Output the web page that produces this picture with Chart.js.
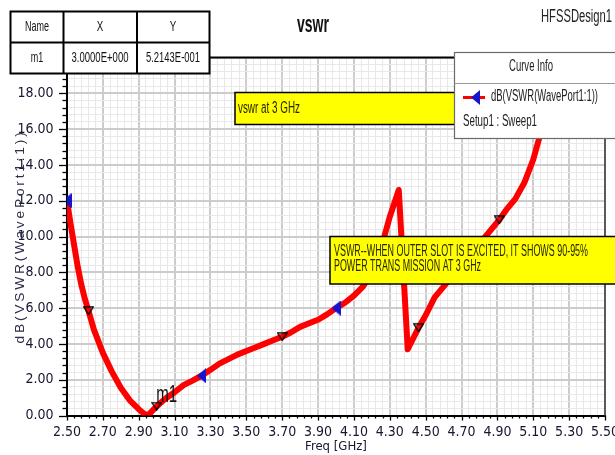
<!DOCTYPE html>
<html><head><meta charset="utf-8">
<script src="https://cdn.jsdelivr.net/npm/chart.js@4.4.1/dist/chart.umd.min.js"></script>
<style>html,body{margin:0;padding:0;background:#fff;overflow:hidden}canvas{display:block}</style>
</head><body>
<canvas id="c" width="615" height="455"></canvas>
<script>
// ---- data ----
const freqGHz = [2.50,2.52,2.54,2.56,2.58,2.60,2.62,2.65,2.70,2.75,2.80,2.85,2.90,2.93,2.95,2.97,3.00,3.05,3.10,3.15,3.20,3.25,3.30,3.35,3.40,3.45,3.50,3.55,3.60,3.65,3.70,3.75,3.80,3.85,3.90,3.95,4.00,4.05,4.10,4.15,4.20,4.25,4.30,4.35,4.40,4.46,4.50,4.55,4.60,4.65,4.70,4.75,4.80,4.85,4.91,4.95,5.00,5.05,5.10,5.15,5.20,5.25];
const dbVswr  = [12.0,10.7,9.5,8.3,7.3,6.5,5.85,4.8,3.5,2.45,1.55,0.85,0.35,0.1,0.02,0.2,0.52,0.95,1.3,1.7,1.95,2.22,2.55,2.9,3.15,3.4,3.6,3.8,4.0,4.2,4.4,4.65,4.95,5.15,5.35,5.65,6.0,6.3,6.7,7.2,8.0,9.3,11.1,12.6,3.7,4.9,5.6,6.6,7.2,7.85,8.5,9.1,9.6,10.2,10.93,11.5,12.1,13.0,14.3,16.1,18.4,21.0];
const arrowFreq = [2.50, 3.25, 4.00];
const arrowDb   = [12.0, 2.22, 6.0];
const symbolFreq = [2.62, 3.00, 3.70, 4.46, 4.91];
const symbolDb   = [5.85, 0.52, 4.40, 4.90, 10.93];
const markerName = 'm1', markerFreq = 3.0, markerDb = 0.52143;
const xLabelValues = [2.5,2.7,2.9,3.1,3.3,3.5,3.7,3.9,4.1,4.3,4.5,4.7,4.9,5.1,5.3,5.5];
const yLabelValues = [0,2,4,6,8,10,12,14,16,18,20];
const tableHeader = ['Name','X','Y'];
const tableRow = ['m1','3.0000E+000','5.2143E-001'];
const note1 = 'vswr at 3 GHz';
const note2 = ['VSWR--WHEN OUTER SLOT IS EXCITED, IT SHOWS 90-95%','POWER TRANS MISSION AT 3 GHz'];
const traceName = 'dB(VSWR(WavePort1:1))';
const traceSetup = 'Setup1 : Sweep1';

const SANS = "'Liberation Sans', Arial, sans-serif";
const NARROW = "'Liberation Sans Narrow', 'Arial Narrow', 'DejaVu Sans Condensed', sans-serif";
const LBL = '#16162e';
const near = (arr, v) => arr.some(a => Math.abs(a - v) < 1e-6);

// point style images
function triLeft() {
  const c = document.createElement('canvas'); c.width = 9; c.height = 15;
  const g = c.getContext('2d'); g.fillStyle = '#1515d0';
  g.beginPath(); g.moveTo(0, 7.5); g.lineTo(9, 0); g.lineTo(9, 15); g.closePath(); g.fill();
  return c;
}
function triDown() {
  const c = document.createElement('canvas'); c.width = 11; c.height = 9;
  const g = c.getContext('2d'); g.strokeStyle = '#000'; g.lineWidth = 1.3;
  g.beginPath(); g.moveTo(0.8, 0.8); g.lineTo(10.2, 0.8); g.lineTo(5.5, 8.2); g.closePath(); g.stroke();
  return c;
}
const imgLeft = triLeft(), imgDown = triDown();

function txt(ctx, s, x, y, size, o = {}) {
  ctx.save();
  ctx.font = (o.bold ? 'bold ' : '') + size + 'px ' + (o.family || SANS);
  ctx.fillStyle = o.color || '#111';
  ctx.textBaseline = 'middle';
  if (o.ls) ctx.letterSpacing = o.ls;
  const w = ctx.measureText(s).width;
  let sx = o.sx || 1;
  if (o.fit) sx = o.fit / w;
  const align = o.align || 'left';
  ctx.translate(x, y);
  if (o.rot) ctx.rotate(o.rot);
  ctx.scale(sx, 1);
  ctx.textAlign = align;
  ctx.fillText(s, 0, 0);
  ctx.restore();
}

const decor = {
  id: 'decor',
  afterDraw(chart) {
    const ctx = chart.ctx, a = chart.chartArea;
    const xs = chart.scales.x, ys = chart.scales.y;
    ctx.save();
    // frame top & right
    ctx.strokeStyle = '#000'; ctx.lineWidth = 2;
    ctx.beginPath(); ctx.moveTo(a.left - 1, a.top); ctx.lineTo(a.right, a.top); ctx.stroke();
    ctx.strokeStyle = '#5a5a5a';
    ctx.beginPath(); ctx.moveTo(a.right, a.top); ctx.lineTo(a.right, a.bottom); ctx.stroke();
    // tick marks
    ctx.strokeStyle = '#000'; ctx.lineWidth = 1.3;
    ys.ticks.forEach(t => {
      const p = Math.round(ys.getPixelForValue(t.value)) + 0.5;
      const L = near(yLabelValues, t.value) ? 8 : 4.5;
      ctx.beginPath(); ctx.moveTo(a.left - L, p); ctx.lineTo(a.left, p); ctx.stroke();
    });
    xs.ticks.forEach(t => {
      const p = Math.round(xs.getPixelForValue(t.value)) + 0.5;
      const L = near(xLabelValues, t.value) ? 5 : 3;
      ctx.beginPath(); ctx.moveTo(p, a.bottom); ctx.lineTo(p, a.bottom + L); ctx.stroke();
    });
    ctx.restore();

    // y-axis title
    txt(ctx, 'dB(VSWR(WavePort1:1))', 21, (a.top + a.bottom) / 2, 12.5, {rot: -Math.PI / 2, align: 'center', ls: '2.5px', fit: 214, color: '#2e2e4a'});

    // yellow notes
    ctx.save();
    ctx.fillStyle = '#ffff00'; ctx.strokeStyle = '#000'; ctx.lineWidth = 1.5;
    ctx.fillRect(235, 92.5, 230, 32); ctx.strokeRect(235, 92.5, 230, 32);
    ctx.fillRect(330, 236.5, 290, 47.5); ctx.strokeRect(330, 236.5, 290, 47.5);
    ctx.restore();
    txt(ctx, note1, 238, 108.5, 16, {fit: 62, color: '#262600'});
    txt(ctx, note2[0], 334, 251.7, 16, {fit: 254, color: '#262600'});
    txt(ctx, note2[1], 334, 266.7, 16, {fit: 147, color: '#262600'});

    // marker label
    const mx = xs.getPixelForValue(markerFreq), my = ys.getPixelForValue(markerDb);
    txt(ctx, markerName, mx + 10, my - 11, 23, {align: 'center', fit: 21, color: '#111'});

    // marker table
    ctx.save();
    ctx.fillStyle = '#fff'; ctx.fillRect(10.5, 11.5, 199, 62);
    ctx.strokeStyle = '#000'; ctx.lineWidth = 2;
    ctx.strokeRect(10.5, 11.5, 199, 62);
    ctx.beginPath();
    ctx.moveTo(10.5, 42.5); ctx.lineTo(209.5, 42.5);
    ctx.moveTo(63.5, 11.5); ctx.lineTo(63.5, 73.5);
    ctx.moveTo(137, 11.5); ctx.lineTo(137, 73.5);
    ctx.stroke();
    ctx.restore();
    const cx = [37, 100, 173];
    txt(ctx, tableHeader[0], cx[0], 27, 15, {align: 'center', fit: 24});
    txt(ctx, tableHeader[1], cx[1], 27, 15, {align: 'center', sx: 0.65});
    txt(ctx, tableHeader[2], cx[2], 27, 15, {align: 'center', sx: 0.65});
    txt(ctx, tableRow[0], cx[0], 58, 15, {align: 'center', sx: 0.6});
    txt(ctx, tableRow[1], cx[1], 58, 15, {align: 'center', fit: 57});
    txt(ctx, tableRow[2], cx[2], 58, 15, {align: 'center', fit: 54});

    // legend panel
    ctx.save();
    ctx.fillStyle = '#fff'; ctx.fillRect(454.5, 52.5, 162, 86);
    ctx.strokeStyle = '#6a6a6a'; ctx.lineWidth = 1.2;
    ctx.strokeRect(454.5, 52.5, 162, 86);
    ctx.strokeStyle = '#9a9a9a'; ctx.lineWidth = 1;
    ctx.beginPath(); ctx.moveTo(454.5, 83.5); ctx.lineTo(616, 83.5); ctx.stroke();
    ctx.strokeStyle = '#ff0000'; ctx.lineWidth = 3;
    ctx.beginPath(); ctx.moveTo(463, 97.5); ctx.lineTo(485, 97.5); ctx.stroke();
    ctx.drawImage(imgLeft, 471, 90);
    ctx.restore();
    txt(ctx, 'Curve Info', 531, 67, 16, {align: 'center', fit: 44, color: '#222'});
    txt(ctx, traceName, 491, 97, 16, {fit: 107, color: '#222'});
    txt(ctx, traceSetup, 463, 122, 16, {fit: 74, color: '#222'});

    // titles
    txt(ctx, 'vswr', 313, 25, 24, {bold: true, align: 'center', fit: 32, color: '#111'});
    txt(ctx, 'HFSSDesign1', 612, 17, 18, {align: 'right', fit: 71, color: '#222'});
  }
};

const curve = freqGHz.map((f, i) => ({x: f, y: dbVswr[i]}));
const arrows = arrowFreq.map((f, i) => ({x: f, y: arrowDb[i]}));
const symbols = symbolFreq.map((f, i) => ({x: f, y: symbolDb[i]}));

new Chart(document.getElementById('c'), {
  type: 'line',
  data: {
    datasets: [
      {label: 'arrows', data: arrows, showLine: false, pointStyle: imgLeft, pointRadius: 6, order: 0, clip: 0},
      {label: 'symbols', data: symbols, showLine: false, pointStyle: imgDown, pointRadius: 6, order: 1, clip: 0},
      {label: traceName, data: curve, borderColor: '#ff0000', borderWidth: 6, pointRadius: 0, tension: 0,
       borderJoinStyle: 'round', borderCapStyle: 'round', fill: false, order: 2, clip: 0}
    ]
  },
  options: {
    responsive: false, animation: false, devicePixelRatio: 1,
    layout: {padding: {top: 57.5, right: 10, bottom: 0, left: 0}},
    plugins: {legend: {display: false}, tooltip: {enabled: false}, title: {display: false}},
    scales: {
      x: {
        type: 'linear', min: 2.5, max: 5.5,
        afterFit: s => { s.height = 39.5; s.paddingLeft = 0; s.paddingRight = 0; },
        ticks: {stepSize: 0.04, autoSkip: false, maxRotation: 0, padding: 8,
                color: LBL, font: {family: NARROW, size: 14},
                callback: v => near(xLabelValues, v) ? v.toFixed(2) : ''},
        grid: {drawTicks: false,
               color: c => (c.tick && near(xLabelValues, c.tick.value)) ? '#cccccc' : '#e8e8e8',
               lineWidth: c => (c.tick && near(xLabelValues, c.tick.value)) ? 2 : 1},
        border: {display: true, color: '#000', width: 2},
        title: {display: true, text: 'Freq [GHz]', color: LBL, font: {family: NARROW, size: 13}, padding: {top: 0, bottom: 0.5}}
      },
      y: {
        type: 'linear', min: 0, max: 20,
        afterFit: s => { s.width = 67; },
        ticks: {stepSize: 0.4, autoSkip: false, padding: 13.5,
                color: LBL, font: {family: NARROW, size: 14},
                callback: v => near(yLabelValues, v) ? v.toFixed(2) : ''},
        grid: {drawTicks: false,
               color: c => (c.tick && near(yLabelValues, c.tick.value)) ? '#cccccc' : '#e8e8e8',
               lineWidth: c => (c.tick && near(yLabelValues, c.tick.value)) ? 2 : 1},
        border: {display: true, color: '#000', width: 2}
      }
    }
  },
  plugins: [decor]
});
</script>
</body></html>
